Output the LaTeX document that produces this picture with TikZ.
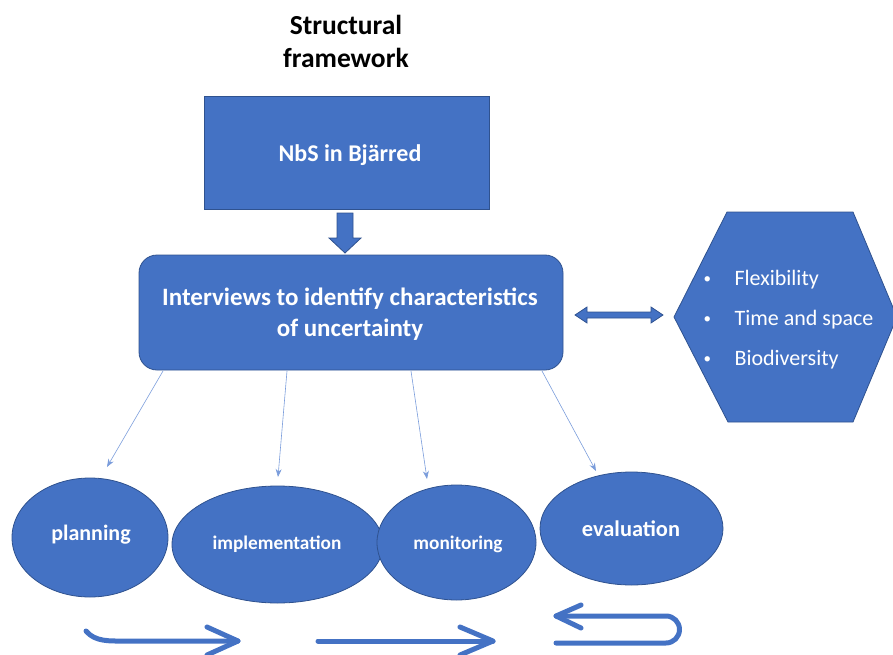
\documentclass[tikz,border=0pt]{standalone}
\usepackage{fontspec}
\setmainfont{Carlito}
\usetikzlibrary{arrows.meta,shapes.geometric}
\definecolor{fillb}{HTML}{4472C4}
\definecolor{edgeb}{HTML}{2F528F}
\definecolor{thinb}{HTML}{7A9CDB}
\tikzset{
  boxfill/.style={fill=fillb,draw=edgeb,line width=0.8pt},
  lbl/.style={text=white,font=\bfseries,align=center},
  ell/.style={ellipse,boxfill,inner sep=0pt},
  thin/.style={draw=thinb,line width=0.6pt,-{Stealth[length=8pt,width=6pt]}},
  flow/.style={draw=fillb,line width=5pt,line cap=round,line join=round},
}
\begin{document}
\begin{tikzpicture}[x=1pt,y=-1pt]
\useasboundingbox (0,0) rectangle (893,655);
% title
\node[font=\bfseries\fontsize{27.5}{33}\selectfont,align=center] (title) at (346,41) {Structural\\framework};
% NbS box
\node[boxfill,minimum width=285pt,minimum height=113pt,inner sep=0pt] (nbs) at (346.5,152.5) {};
\node[lbl,font=\bfseries\fontsize{24}{28}\selectfont] (nbst) at (350,155) {NbS in Bjärred};
% block arrow down
\draw[boxfill] (337,213) -- (353,213) -- (353,238) -- (361,238) -- (345,253) -- (329,238) -- (337,238) -- cycle;
% interviews
\node[boxfill,rounded corners=18pt,minimum width=424pt,minimum height=115pt,inner sep=0pt] (intv) at (351,312.5) {};
\node[lbl,font=\bfseries\fontsize{25}{31}\selectfont] (intvt) at (350,314) {Interviews to identify characteristics\\of uncertainty};
% double arrow
\draw[boxfill] (575,315) -- (587,307) -- (587,312) -- (651,312) -- (651,307) -- (663,315) -- (651,323) -- (651,318) -- (587,318) -- (587,323) -- cycle;
% hexagon
\draw[boxfill] (727,212) -- (853,212) -- (897,317) -- (853,422) -- (728,422) -- (674,317) -- cycle;
\begin{scope}[every node/.style={text=white,font=\fontsize{22}{26}\selectfont,anchor=west}]
\node[font=\fontsize{15}{18}\selectfont] (b1) at (700,280) {•};
\node (t1) at (731,280) {Flexibility};
\node[font=\fontsize{15}{18}\selectfont] (b2) at (700,320) {•};
\node (t2) at (731,320) {Time and space};
\node[font=\fontsize{15}{18}\selectfont] (b3) at (700,360) {•};
\node (t3) at (731,360) {Biodiversity};
\end{scope}
% ellipses
\node[ell,minimum width=156pt,minimum height=119pt] (plan) at (90,537.5) {};
\node[ell,minimum width=211pt,minimum height=117pt] (impl) at (277.5,544.5) {};
\node[ell,minimum width=159pt,minimum height=115pt] (moni) at (456.5,542.5) {};
\node[ell,minimum width=183pt,minimum height=113pt] (eval) at (631.5,528.5) {};
\node[lbl,font=\bfseries\fontsize{22}{26}\selectfont] at (91,535) {planning};
\node[lbl,font=\bfseries\fontsize{19.3}{23}\selectfont] at (277,544) {implementation};
\node[lbl,font=\bfseries\fontsize{19.3}{23}\selectfont] at (458,544) {monitoring};
\node[lbl,font=\bfseries\fontsize{22.4}{26}\selectfont] at (631,529) {evaluation};
% thin connectors
\coordinate (s1) at (163,371);
\coordinate (s2) at (287,371);
\coordinate (s3) at (411,371);
\coordinate (s4) at (542,371);
\coordinate (e1) at (107,467);
\coordinate (e2) at (278,477);
\coordinate (e3) at (427,479);
\coordinate (e4) at (596,471);
\draw[thin] (s1) -- (e1);
\draw[thin] (s2) -- (e2);
\draw[thin] (s3) -- (e3);
\draw[thin] (s4) -- (e4);
% bottom flow arrows
\coordinate (f1a) at (86,631);
\coordinate (f1b) at (238,641);
\draw[flow] (f1a) .. controls (95,642) and (110,641) .. (125,641) -- (f1b);
\draw[flow] (207,627) -- (f1b) -- (207,655);
\coordinate (f2a) at (318,641);
\coordinate (f2b) at (493,641);
\draw[flow] (f2a) -- (f2b);
\draw[flow] (460,627) -- (f2b) -- (460,655);
\coordinate (f3a) at (556,643);
\coordinate (f3b) at (556,616);
\draw[flow] (f3a) -- (666,643) arc[start angle=90,end angle=-90,radius=13.5] -- (f3b);
\draw[flow] (581,605) -- (f3b) -- (581,628);
\end{tikzpicture}
\end{document}
